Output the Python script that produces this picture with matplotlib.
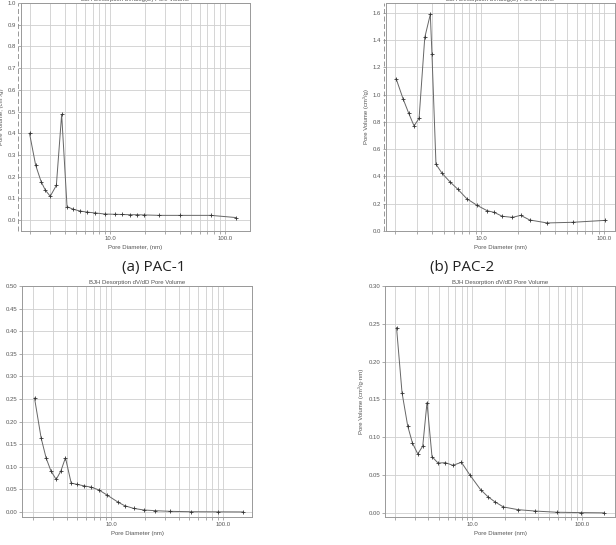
"""BJH desorption pore-size distributions for PAC-1 and PAC-2 (2x2 panel)."""
import matplotlib

matplotlib.use("Agg")
import matplotlib.pyplot as plt
from matplotlib.lines import Line2D
from matplotlib.ticker import FixedLocator, NullFormatter

# (a) PAC-1, dV/dlog(D)
a_diam = [1.98, 2.24, 2.50, 2.72, 3.00, 3.39, 3.77, 4.20, 4.76, 5.45, 6.27, 7.41,
          9.0, 11.0, 12.6, 14.8, 16.9, 19.6, 26.7, 40.3, 75.0, 123.0]
a_vol = [0.400, 0.253, 0.177, 0.138, 0.110, 0.160, 0.487, 0.062, 0.050, 0.042, 0.037,
         0.033, 0.028, 0.027, 0.026, 0.025, 0.025, 0.024, 0.022, 0.022, 0.022, 0.012]

# (b) PAC-2, dV/dlog(D)
b_diam = [2.03, 2.31, 2.57, 2.84, 3.12, 3.47, 3.85, 3.97, 4.28, 4.80, 5.57, 6.45,
          7.62, 9.25, 11.15, 12.7, 14.8, 17.9, 20.9, 24.7, 34.3, 55.7, 101.0]
b_vol = [1.118, 0.971, 0.864, 0.771, 0.827, 1.42, 1.59, 1.30, 0.49, 0.423, 0.36,
         0.306, 0.237, 0.188, 0.149, 0.137, 0.108, 0.100, 0.115, 0.081, 0.059, 0.064, 0.078]

# (c) PAC-1, dV/dD
c_diam = [2.07, 2.37, 2.63, 2.90, 3.23, 3.56, 3.91, 4.40, 5.0, 5.70, 6.63, 7.76,
          9.27, 11.5, 13.2, 15.9, 19.6, 24.7, 33.8, 51.4, 89.5, 150.0]
c_vol = [0.252, 0.164, 0.119, 0.091, 0.072, 0.091, 0.120, 0.064, 0.061, 0.058, 0.055,
         0.049, 0.037, 0.022, 0.014, 0.008, 0.0045, 0.003, 0.0015, 0.0007, 0.0004, 0.0002]

# (d) PAC-2, dV/dD
d_diam = [2.05, 2.30, 2.59, 2.86, 3.20, 3.55, 3.88, 4.31, 4.89, 5.70, 6.68, 7.98,
          9.55, 11.9, 13.9, 16.0, 19.2, 26.1, 37.0, 58.6, 97.5, 158.0]
d_vol = [0.245, 0.159, 0.115, 0.0925, 0.078, 0.0885, 0.146, 0.0744, 0.066, 0.0665,
         0.063, 0.067, 0.050, 0.031, 0.0215, 0.015, 0.008, 0.0044, 0.0026, 0.001,
         0.0005, 0.0002]

W, H = 616, 545
fig = plt.figure(figsize=(W / 100, H / 100), dpi=100)
plt.rcParams["font.family"] = ["Liberation Sans", "DejaVu Sans"]

TXT = "#555555"
GRID = "#cfcfcf"
FS = 4.3


def px_axes(left, top, right, bottom):
    return fig.add_axes([left / W, 1 - bottom / H, (right - left) / W, (bottom - top) / H])


def style(ax, xlim, ylim, yticks, yfmt, title, xlabel, ylabel):
    ax.set_xscale("log")
    ax.set_xlim(*xlim)
    ax.set_ylim(*ylim)
    ax.xaxis.set_major_locator(FixedLocator([10, 100]))
    ax.xaxis.set_minor_locator(FixedLocator(
        [v * m for m in (1, 10, 100) for v in range(2, 10)]))
    ax.xaxis.set_minor_formatter(NullFormatter())
    ax.set_xticks([10, 100], ["10.0", "100.0"])
    ax.set_yticks(yticks, [yfmt.format(v) for v in yticks])
    ax.grid(True, which="both", axis="x", color=GRID, lw=0.6)
    ax.grid(True, which="major", axis="y", color=GRID, lw=0.6)
    ax.set_axisbelow(True)
    ax.tick_params(which="both", length=2, width=0.5, colors="#888888",
                   labelcolor=TXT, labelsize=FS, pad=1.5)
    for s in ax.spines.values():
        s.set_color("#999999")
        s.set_linewidth(0.7)
    ax.set_title(title, fontsize=FS, color=TXT, pad=1.5)
    ax.set_xlabel(xlabel, fontsize=FS, color=TXT, labelpad=3)
    ax.set_ylabel(ylabel, fontsize=FS, color=TXT, labelpad=3)


def curve(ax, x, y):
    ax.plot(x, y, color="#666666", lw=0.7, marker="+", ms=3.5, mew=0.6,
            mec="#333333")


# (a)
ax = px_axes(21, 3, 250, 231)
curve(ax, a_diam, a_vol)
style(ax, (1.67, 164), (-0.05, 1.0), [i / 10 for i in range(11)], "{:.1f}",
      "BJH Desorption dV/dlog(D) Pore Volume", "Pore Diameter, (nm)",
      "Pore Volume, (cm³/g)")
ax.title.set_y(1.0)

# (b)
ax = px_axes(386, 3, 615, 231)
curve(ax, b_diam, b_vol)
style(ax, (1.68, 122), (0.0, 1.673), [i / 5 for i in range(9)], "{:.1f}",
      "BJH Desorption dV/dlog(D) Pore Volume", "Pore Diameter (nm)",
      "Pore Volume (cm³/g)")

# (c)
ax = px_axes(22, 286, 252, 517)
curve(ax, c_diam, c_vol)
style(ax, (1.60, 181), (-0.011, 0.5), [i / 20 for i in range(11)], "{:.2f}",
      "BJH Desorption dV/dD Pore Volume", "Pore Diameter (nm)",
      "Pore Volume (cm³/g·nm)")

# (d)
ax = px_axes(385, 286, 615, 517)
curve(ax, d_diam, d_vol)
style(ax, (1.61, 199), (-0.0053, 0.30), [i / 20 for i in range(7)], "{:.2f}",
      "BJH Desorption dV/dD Pore Volume", "Pore Diameter (nm)",
      "Pore Volume (cm³/g·nm)")

# dashed frame edge left of the upper plots (instrument export artefact)
for xp in (18, 384):
    fig.add_artist(Line2D([xp / W, xp / W], [1 - 231 / H, 1 - 3 / H],
                          color="#888888", lw=0.6, ls=(0, (6, 3))))

for label, cx in (("(a) PAC-1", 154), ("(b) PAC-2", 462)):
    fig.text(cx / W, 1 - 268 / H, label, ha="center", va="center",
             fontsize=11, family=["Open Sans", "DejaVu Sans"], color="#222222")

fig.savefig("out.png", dpi=100)
